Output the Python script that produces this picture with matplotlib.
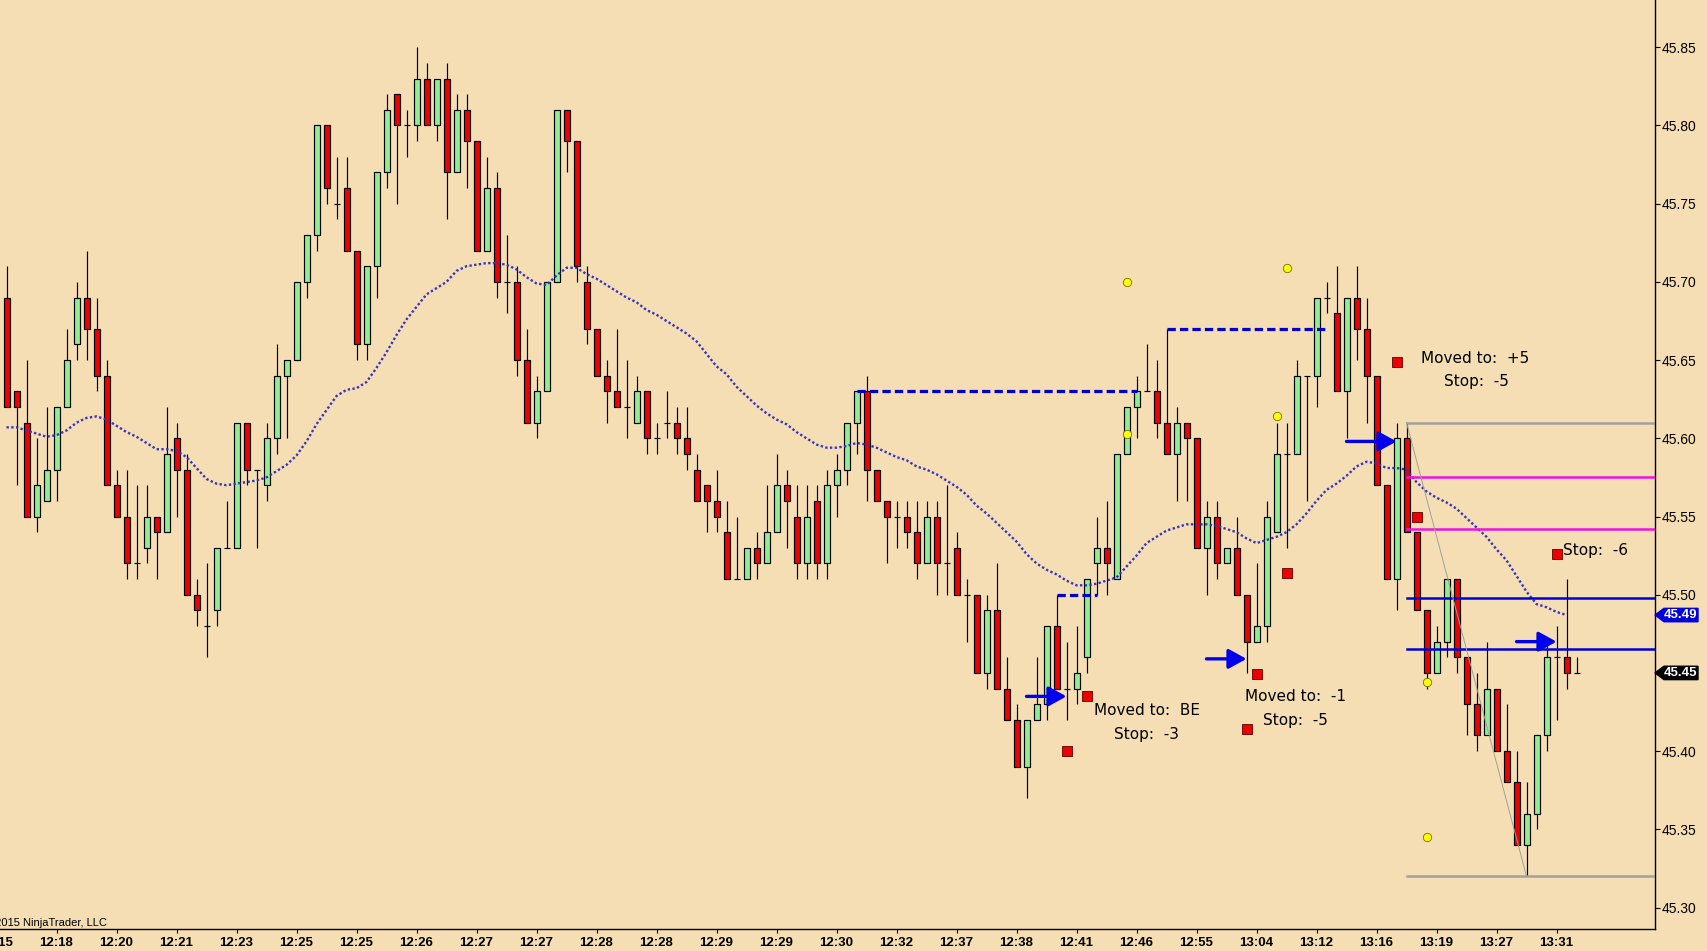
import numpy as np
import matplotlib
matplotlib.use("Agg")
import matplotlib.pyplot as plt
from matplotlib.patches import Polygon

# ---- data (bar index, price) ----
opens = [45.69, 45.63, 45.61, 45.55, 45.56, 45.58, 45.62, 45.66, 45.69, 45.67,
         45.64, 45.57, 45.55, 45.52, 45.53, 45.55, 45.54, 45.60, 45.58, 45.50,
         45.48, 45.49, 45.53, 45.53, 45.61, 45.58, 45.57, 45.60, 45.64, 45.65,
         45.70, 45.73, 45.80, 45.75, 45.76, 45.72, 45.66, 45.71, 45.77, 45.82,
         45.80, 45.80, 45.83, 45.80, 45.83, 45.77, 45.81, 45.79, 45.72, 45.76,
         45.70, 45.70, 45.65, 45.61, 45.63, 45.70, 45.81, 45.79, 45.70, 45.67,
         45.64, 45.63, 45.62, 45.61, 45.63, 45.60, 45.61, 45.61, 45.60, 45.58,
         45.57, 45.56, 45.54, 45.51, 45.51, 45.53, 45.52, 45.54, 45.57, 45.55,
         45.52, 45.56, 45.52, 45.57, 45.58, 45.61, 45.63, 45.58, 45.56, 45.55,
         45.55, 45.54, 45.52, 45.55, 45.52, 45.53, 45.50, 45.50, 45.45, 45.49,
         45.44, 45.42, 45.39, 45.42, 45.43, 45.48, 45.44, 45.44, 45.46, 45.52,
         45.53, 45.51, 45.59, 45.62, 45.63, 45.63, 45.61, 45.59, 45.61, 45.60,
         45.53, 45.55, 45.52, 45.53, 45.50, 45.47, 45.48, 45.54, 45.59, 45.59,
         45.64, 45.64, 45.69, 45.68, 45.63, 45.69, 45.67, 45.64, 45.57, 45.51,
         45.60, 45.54, 45.49, 45.45, 45.47, 45.51, 45.46, 45.43, 45.41, 45.44,
         45.40, 45.38, 45.34, 45.36, 45.41, 45.46, 45.46, 45.45]
highs = [45.71, 45.63, 45.65, 45.60, 45.62, 45.62, 45.67, 45.70, 45.72, 45.69,
         45.65, 45.58, 45.58, 45.57, 45.57, 45.55, 45.62, 45.61, 45.59, 45.51,
         45.52, 45.53, 45.56, 45.61, 45.61, 45.58, 45.61, 45.66, 45.65, 45.70,
         45.73, 45.80, 45.80, 45.78, 45.78, 45.72, 45.71, 45.77, 45.82, 45.82,
         45.81, 45.85, 45.84, 45.83, 45.84, 45.82, 45.82, 45.79, 45.78, 45.77,
         45.73, 45.71, 45.67, 45.64, 45.70, 45.81, 45.81, 45.79, 45.71, 45.67,
         45.65, 45.67, 45.65, 45.64, 45.63, 45.61, 45.63, 45.62, 45.62, 45.59,
         45.57, 45.58, 45.56, 45.55, 45.53, 45.54, 45.57, 45.59, 45.58, 45.57,
         45.57, 45.57, 45.58, 45.59, 45.61, 45.63, 45.64, 45.58, 45.56, 45.56,
         45.56, 45.56, 45.56, 45.56, 45.57, 45.54, 45.51, 45.50, 45.50, 45.52,
         45.46, 45.43, 45.42, 45.46, 45.48, 45.50, 45.47, 45.48, 45.51, 45.55,
         45.56, 45.59, 45.62, 45.64, 45.66, 45.65, 45.67, 45.62, 45.61, 45.60,
         45.56, 45.56, 45.53, 45.55, 45.50, 45.52, 45.56, 45.61, 45.61, 45.65,
         45.64, 45.69, 45.70, 45.71, 45.69, 45.71, 45.69, 45.64, 45.57, 45.61,
         45.61, 45.54, 45.49, 45.48, 45.51, 45.51, 45.46, 45.45, 45.47, 45.44,
         45.43, 45.40, 45.38, 45.41, 45.47, 45.48, 45.51, 45.46]
lows = [45.62, 45.57, 45.55, 45.54, 45.56, 45.56, 45.62, 45.65, 45.65, 45.63,
        45.57, 45.55, 45.51, 45.51, 45.52, 45.51, 45.54, 45.55, 45.50, 45.48,
        45.46, 45.48, 45.53, 45.53, 45.57, 45.53, 45.56, 45.59, 45.60, 45.65,
        45.69, 45.72, 45.75, 45.74, 45.72, 45.65, 45.65, 45.69, 45.76, 45.75,
        45.78, 45.79, 45.80, 45.79, 45.74, 45.77, 45.76, 45.72, 45.72, 45.69,
        45.68, 45.64, 45.61, 45.60, 45.63, 45.70, 45.77, 45.70, 45.66, 45.64,
        45.61, 45.62, 45.60, 45.61, 45.59, 45.59, 45.60, 45.59, 45.58, 45.56,
        45.54, 45.54, 45.51, 45.51, 45.51, 45.51, 45.52, 45.54, 45.53, 45.51,
        45.51, 45.51, 45.51, 45.55, 45.57, 45.59, 45.56, 45.56, 45.52, 45.53,
        45.53, 45.51, 45.52, 45.50, 45.50, 45.50, 45.47, 45.45, 45.44, 45.44,
        45.42, 45.39, 45.37, 45.42, 45.42, 45.44, 45.42, 45.43, 45.45, 45.50,
        45.50, 45.51, 45.59, 45.60, 45.63, 45.60, 45.59, 45.56, 45.56, 45.53,
        45.50, 45.51, 45.52, 45.50, 45.45, 45.47, 45.47, 45.54, 45.53, 45.59,
        45.56, 45.62, 45.68, 45.63, 45.60, 45.65, 45.61, 45.57, 45.51, 45.49,
        45.54, 45.49, 45.44, 45.45, 45.46, 45.45, 45.41, 45.40, 45.41, 45.40,
        45.38, 45.34, 45.32, 45.35, 45.40, 45.42, 45.44, 45.45]
closes = [45.62, 45.62, 45.55, 45.57, 45.58, 45.62, 45.65, 45.69, 45.67, 45.64,
          45.57, 45.55, 45.52, 45.52, 45.55, 45.54, 45.59, 45.58, 45.50, 45.49,
          45.48, 45.53, 45.53, 45.61, 45.58, 45.58, 45.60, 45.64, 45.65, 45.70,
          45.73, 45.80, 45.76, 45.75, 45.72, 45.66, 45.71, 45.77, 45.81, 45.80,
          45.80, 45.83, 45.80, 45.83, 45.77, 45.81, 45.79, 45.72, 45.76, 45.70,
          45.70, 45.65, 45.61, 45.63, 45.70, 45.81, 45.79, 45.71, 45.67, 45.64,
          45.63, 45.62, 45.62, 45.63, 45.60, 45.60, 45.61, 45.60, 45.59, 45.56,
          45.56, 45.55, 45.51, 45.51, 45.53, 45.52, 45.54, 45.57, 45.56, 45.52,
          45.55, 45.52, 45.57, 45.58, 45.61, 45.63, 45.58, 45.56, 45.55, 45.55,
          45.54, 45.52, 45.55, 45.52, 45.52, 45.50, 45.50, 45.45, 45.49, 45.44,
          45.42, 45.39, 45.42, 45.43, 45.48, 45.44, 45.44, 45.45, 45.51, 45.53,
          45.52, 45.59, 45.62, 45.63, 45.63, 45.61, 45.59, 45.61, 45.60, 45.53,
          45.55, 45.52, 45.53, 45.50, 45.47, 45.48, 45.55, 45.59, 45.59, 45.64,
          45.64, 45.69, 45.69, 45.63, 45.69, 45.67, 45.64, 45.57, 45.51, 45.60,
          45.54, 45.49, 45.45, 45.47, 45.51, 45.46, 45.43, 45.41, 45.44, 45.40,
          45.38, 45.34, 45.36, 45.41, 45.46, 45.46, 45.45, 45.45]

ema = [45.607, 45.607, 45.605, 45.603, 45.601, 45.602, 45.605, 45.610, 45.613, 45.614,
       45.612, 45.608, 45.604, 45.601, 45.597, 45.593, 45.593, 45.592, 45.588, 45.581,
       45.574, 45.571, 45.570, 45.571, 45.572, 45.573, 45.575, 45.579, 45.583, 45.589,
       45.598, 45.609, 45.618, 45.627, 45.631, 45.632, 45.636, 45.645, 45.655, 45.666,
       45.676, 45.684, 45.692, 45.696, 45.700, 45.707, 45.710, 45.711, 45.712, 45.712,
       45.711, 45.708, 45.703, 45.699, 45.698, 45.704, 45.709, 45.709, 45.705, 45.702,
       45.698, 45.694, 45.690, 45.687, 45.682, 45.679, 45.675, 45.671, 45.667, 45.662,
       45.654, 45.646, 45.641, 45.633, 45.627, 45.621, 45.616, 45.612, 45.609, 45.604,
       45.600, 45.596, 45.594, 45.594, 45.595, 45.597, 45.596, 45.594, 45.591, 45.588,
       45.586, 45.582, 45.580, 45.577, 45.573, 45.569, 45.564, 45.557, 45.552, 45.546,
       45.540, 45.534, 45.526, 45.520, 45.516, 45.513, 45.509, 45.506, 45.506, 45.507,
       45.509, 45.511, 45.518, 45.525, 45.533, 45.537, 45.541, 45.543, 45.545, 45.545,
       45.545, 45.544, 45.542, 45.540, 45.536, 45.533, 45.535, 45.537, 45.540, 45.545,
       45.552, 45.560, 45.567, 45.571, 45.576, 45.582, 45.585, 45.584, 45.581, 45.581,
       45.580, 45.572, 45.566, 45.562, 45.559, 45.555, 45.549, 45.543, 45.537, 45.529,
       45.522, 45.512, 45.502, 45.494, 45.492, 45.489, 45.487]

time_labels = ["12:18", "12:20", "12:21", "12:23", "12:25", "12:25", "12:26", "12:27",
               "12:27", "12:28", "12:28", "12:29", "12:29", "12:30", "12:32", "12:37",
               "12:38", "12:41", "12:46", "12:55", "13:04", "13:12", "13:16", "13:19",
               "13:27", "13:31"]
time_ticks = list(range(5, 156, 6))

# swing-high dashed lines: (start bar, end bar, price)
swing_lines = [(85, 113, 45.63), (116, 132, 45.67), (105, 109, 45.50)]
# trade levels from the entry bar to the right edge
level_start = 140
gray_levels = [45.61, 45.32]
magenta_levels = [45.575, 45.542]
blue_levels = [45.498, 45.465]
diag_x = [140, 152]
diag_y = [45.61, 45.32]

# arrows: (from bar, to bar, price)
arrows = [(102, 106, 45.435), (120, 124, 45.459), (134, 139, 45.598), (151, 155, 45.47)]
square_x = [108, 106, 139, 128, 125, 124, 141, 155]
square_y = [45.435, 45.40, 45.649, 45.514, 45.449, 45.414, 45.55, 45.526]
dot_x = [112, 128, 112, 127, 142, 142]
dot_y = [45.70, 45.709, 45.6025, 45.614, 45.444, 45.345]

notes = [(114.0, 45.4258, "Moved to:  BE"), (114.0, 45.4107, "Stop:  -3"),
         (128.9, 45.4348, "Moved to:  -1"), (128.9, 45.4199, "Stop:  -5"),
         (146.9, 45.6507, "Moved to:  +5"), (147.0, 45.636, "Stop:  -5")]
stop_note = (155.65, 45.528, "Stop:  -6")

BG = "#F5DEB3"
UP = "#90EE90"
DOWN = "#EE0000"

W, H = 1707, 951
fig = plt.figure(figsize=(W / 100, H / 100), dpi=100)
fig.patch.set_facecolor(BG)
ax_w, ax_h = 1655, 929.3
ax = fig.add_axes([0, (H - ax_h) / H, ax_w / W, ax_h / H])
ax.set_facecolor(BG)
ax.set_xlim(-0.65, 164.85)
ax.set_ylim(45.2861, 45.8802)

o = np.array(opens)
h = np.array(highs)
l = np.array(lows)
c = np.array(closes)
x = np.arange(len(o))

# wicks
ax.vlines(x, l, h, color="black", lw=0.85, zorder=2)
up = c > o
dn = c < o
dj = c == o
ax.bar(x[up], (c - o)[up], bottom=o[up], width=0.6, color=UP,
       edgecolor="black", linewidth=0.85, zorder=3)
ax.bar(x[dn], (o - c)[dn], bottom=c[dn], width=0.6, color=DOWN,
       edgecolor="black", linewidth=0.85, zorder=3)
ax.hlines(o[dj], x[dj] - 0.3, x[dj] + 0.3, color="black", lw=0.85, zorder=3)

# moving average
ax.plot(np.arange(len(ema)), ema, color="#3535C0", lw=1.7,
        linestyle=(0, (1, 1.0)), zorder=4)

# dashed swing lines
for x0, x1, p in swing_lines:
    ax.plot([x0, x1], [p, p], color="#0000CC", lw=2.3,
            linestyle=(0, (2.6, 1.3)), zorder=4)

xr = ax.get_xlim()[1]
for p in gray_levels:
    ax.plot([level_start, xr], [p, p], color="#A0A0A0", lw=1.8, zorder=4)
for p in magenta_levels:
    ax.plot([level_start, xr], [p, p], color="#F010E0", lw=1.8, zorder=4)
for p in blue_levels:
    ax.plot([level_start, xr], [p, p], color="#0000D8", lw=1.8, zorder=4)
ax.plot(diag_x, diag_y, color="#A0A0A0", lw=0.7, zorder=4)

for x0, x1, p in arrows:
    ax.annotate("", xy=(x1, p), xytext=(x0, p),
                arrowprops=dict(arrowstyle="-|>,head_length=0.6,head_width=0.33",
                                color="#0000EE", lw=2.4, mutation_scale=18,
                                shrinkA=0, shrinkB=0), zorder=5)

ax.scatter(square_x, square_y, marker="s", s=42, color="#EE0000",
           edgecolors="#600000", linewidths=0.6, zorder=6)
ax.scatter(dot_x, dot_y, marker="o", s=36, color="#FFFF00",
           edgecolors="#707000", linewidths=0.6, zorder=6)

for nx, ny, t in notes:
    ax.text(nx, ny, t, ha="center", va="center", fontsize=11,
            family="DejaVu Sans", color="black", zorder=7)
ax.text(stop_note[0], stop_note[1], stop_note[2], ha="left", va="center",
        fontsize=11, family="DejaVu Sans", color="black", zorder=7)

# axes styling
for side in ["top", "left"]:
    ax.spines[side].set_visible(False)
ax.spines["bottom"].set_linewidth(1.0)
ax.spines["right"].set_linewidth(1.0)

ax.set_xticks(time_ticks)
ax.set_xticklabels(time_labels, fontsize=9.5, fontweight="bold",
                   family="Liberation Sans")
ax.tick_params(axis="x", direction="out", length=3, width=0.8, pad=2.5)

ax.yaxis.tick_right()
yt = np.round(np.arange(45.30, 45.851, 0.05), 2)
ax.set_yticks(yt)
ax.set_yticklabels([f"{v:.2f}" for v in yt], fontsize=10, family="Liberation Sans")
ax.tick_params(axis="y", direction="out", length=3.6, width=0.8, pad=1.5)

# partial first time label at the left edge
fig.text(-3.5 / W, (H - 943) / H, "12:15", ha="center", va="center",
         fontsize=9.5, fontweight="bold", family="Liberation Sans")
ax.text(107 / ax_w, (ax_h - 923) / ax_h, "\u00a92015 NinjaTrader, LLC",
        transform=ax.transAxes, ha="right", va="center", fontsize=8,
        family="Liberation Sans", clip_on=False)

# price tags on the right axis
def price_tag(price, face, text):
    px_per_unit = ax_h / (ax.get_ylim()[1] - ax.get_ylim()[0])
    hh = 6.7 / px_per_unit
    tx = ax.get_yaxis_transform()
    tip = 1.0
    left = 1664 / ax_w
    right = 1698 / ax_w
    poly = Polygon([(tip, price), (left, price + hh), (right, price + hh),
                    (right, price - hh), (left, price - hh)], closed=True,
                   facecolor=face, edgecolor=face, transform=tx, clip_on=False,
                   zorder=8)
    ax.add_patch(poly)
    ax.text(1681 / ax_w, price, text, transform=tx, ha="center", va="center",
            color="white", fontsize=9.5, fontweight="bold",
            family="Liberation Sans", clip_on=False, zorder=9)

price_tag(ema[-1], "#0000DD", f"{ema[-1]:.2f}")
price_tag(closes[-1], "black", f"{closes[-1]:.2f}")

fig.savefig("out.png", dpi=100, facecolor=BG)
